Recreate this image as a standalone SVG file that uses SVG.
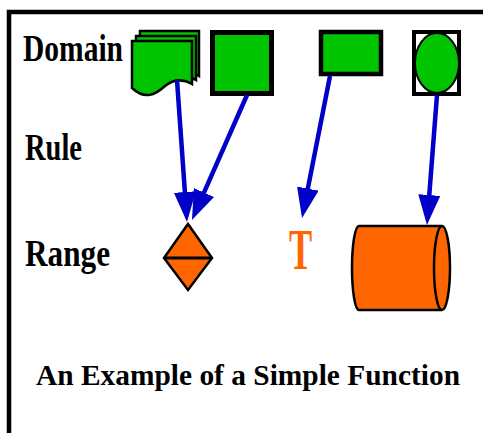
<svg xmlns="http://www.w3.org/2000/svg" width="483" height="433" viewBox="0 0 483 433">
<style>
.lbl{font-family:"Liberation Serif","Times New Roman",serif;font-weight:bold;fill:#000}
.green{fill:#00C400;stroke:#000}
.orange{fill:#FF6600;stroke:#000}
.conn{stroke:#0000C8;stroke-width:4.5;fill:none;marker-end:url(#ah)}
</style>
<defs>
<marker id="ah" markerUnits="userSpaceOnUse" markerWidth="30" markerHeight="22" refX="10" refY="11" orient="auto">
<path d="M0,0 L30,11 L0,22 z" fill="#0000C8"/>
</marker>
</defs>
<rect width="483" height="433" fill="#fff"/>
<path d="M9,433 V12 H483" fill="none" stroke="#000" stroke-width="4.5"/>
<g id="labels">
<text class="lbl" x="23" y="61" font-size="38" textLength="100" lengthAdjust="spacingAndGlyphs">Domain</text>
<text class="lbl" x="25" y="160" font-size="38" textLength="57" lengthAdjust="spacingAndGlyphs">Rule</text>
<text class="lbl" x="25" y="266" font-size="38" textLength="85" lengthAdjust="spacingAndGlyphs">Range</text>
<text class="lbl" x="36" y="385" font-size="29" textLength="424" lengthAdjust="spacingAndGlyphs">An Example of a Simple Function</text>
</g>
<g id="multidoc">
<path class="green" stroke-width="2.5" d="M140,31 H199 V76 C192,72 182,70 173,78 C163,87 153,92 140,80 Z"/>
<path class="green" stroke-width="2.5" d="M136,36 H196 V80 C189,76 179,74 169,82 C159,91 149,96 136,84 Z"/>
<path class="green" stroke-width="2.5" d="M132,41 H192 V84 C185,80 175,78 165,86 C155,95 145,100 132,88 Z"/>
</g>
<g id="square">
<rect class="green" x="212.5" y="32.5" width="59" height="61" stroke-width="5"/>
</g>
<g id="rect">
<rect class="green" x="321" y="32" width="60" height="42" stroke-width="4.5"/>
</g>
<g id="ellipsebox">
<rect x="414" y="32" width="45" height="62" fill="#fff" stroke="#000" stroke-width="4"/>
<ellipse class="green" cx="437" cy="63" rx="22" ry="30" stroke-width="2"/>
</g>
<g id="diamond">
<path class="orange" stroke-width="2.5" d="M188,224 L212,258 L188,290 L164,258 Z"/>
<line x1="164" y1="258" x2="212" y2="258" stroke="#000" stroke-width="3"/>
</g>
<g id="tnode">
<text x="0" y="0" transform="translate(289,269) scale(0.62,1)" font-family="Liberation Serif,serif" font-weight="bold" font-size="56" fill="#FF6600">T</text>
</g>
<g id="cylinder">
<path class="orange" stroke-width="2.5" d="M359,226 L442,226 A8,42 0 0 1 442,310 L359,310 A7,42 0 0 1 359,226 Z"/>
<path d="M442,226 A8,42 0 0 0 442,310" fill="none" stroke="#000" stroke-width="2.5"/>
</g>
<g id="connectors">
<line class="conn" x1="177" y1="80" x2="185.6" y2="202"/>
<line class="conn" x1="247" y1="95" x2="200" y2="201.7"/>
<line class="conn" x1="330" y1="76" x2="305.9" y2="198.4"/>
<line class="conn" x1="437" y1="95" x2="428.5" y2="205"/>
</g>
</svg>
